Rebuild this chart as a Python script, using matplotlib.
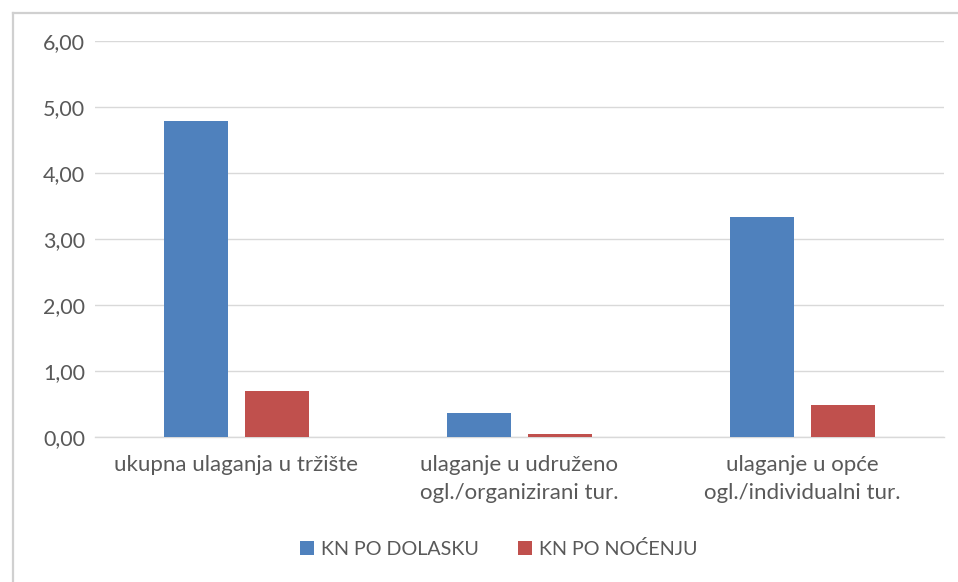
import matplotlib
matplotlib.use("Agg")
import matplotlib.pyplot as plt
from matplotlib.lines import Line2D
import numpy as np

categories = ["ukupna ulaganja u tržište",
              "ulaganje u udruženo\nogl./organizirani tur.",
              "ulaganje u opće\nogl./individualni tur."]
per_arrival = [4.79, 0.37, 3.34]
per_night = [0.70, 0.05, 0.48]
series_names = ["KN PO DOLASKU", "KN PO NOĆENJU"]
y_ticks = [0, 1, 2, 3, 4, 5, 6]
y_tick_labels = ["0,00", "1,00", "2,00", "3,00", "4,00", "5,00", "6,00"]

BLUE = "#4F81BD"
RED = "#C0504D"
TEXT = "#595959"
GRID = "#D9D9D9"

plt.rcParams["font.family"] = ["Lato", "DejaVu Sans"]

W, H = 958, 582
fig = plt.figure(figsize=(W / 100, H / 100), dpi=100)

# outer chart frame (left and top edges visible)
fig.add_artist(Line2D([12.5 / W, 12.5 / W], [0, 1 - 12.5 / H], color="#D0D0D0", lw=1.6))
fig.add_artist(Line2D([12.5 / W, 1], [1 - 12.5 / H, 1 - 12.5 / H], color="#D0D0D0", lw=1.6))

ax = fig.add_axes([95 / W, (H - 437) / H, (944 - 95) / W, (437 - 41) / H])

x = np.arange(len(categories))
bw = 0.224
off = 0.143
ax.bar(x - off, per_arrival, width=bw, color=BLUE, label=series_names[0], zorder=3)
ax.bar(x + off, per_night, width=bw, color=RED, label=series_names[1], zorder=3)

ax.set_xlim(-0.5, len(categories) - 0.5)
ax.set_ylim(0, 6)
ax.set_yticks(y_ticks)
ax.set_yticklabels(y_tick_labels)
ax.set_xticks(x)
ax.set_xticklabels(categories, linespacing=1.5)

ax.yaxis.grid(True, color=GRID, lw=1.0, zorder=0)
for s in ["top", "right", "left"]:
    ax.spines[s].set_visible(False)
ax.spines["bottom"].set_color(GRID)
ax.spines["bottom"].set_linewidth(1.0)
ax.tick_params(axis="both", length=0, colors=TEXT, labelsize=15.5)
ax.tick_params(axis="x", labelsize=16, pad=13)
ax.tick_params(axis="y", pad=7)

leg = fig.legend(loc="center", bbox_to_anchor=(499 / W, 1 - 549 / H), ncol=2,
                 frameon=False, fontsize=14.2, handlelength=0.7, handleheight=0.7,
                 handletextpad=0.35, columnspacing=2.0)
for t in leg.get_texts():
    t.set_color(TEXT)

fig.savefig("out.png", dpi=100, facecolor="white")
